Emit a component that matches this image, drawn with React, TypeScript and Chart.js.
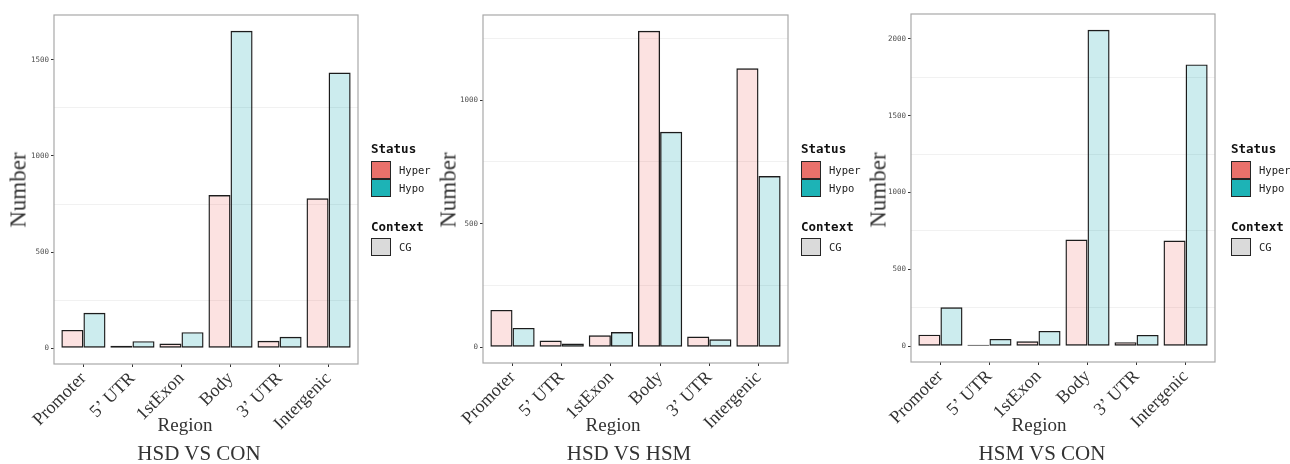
import React, { useEffect, useRef } from "react";
import { Chart, registerables } from "chart.js";

Chart.register(...registerables);

const categories = ["Promoter", "5’ UTR", "1stExon", "Body", "3’ UTR", "Intergenic"];
const hsdConHyper = [95, 12, 24, 797, 38, 780];
const hsdConHypo = [184, 36, 83, 1651, 59, 1434];
const hsdHsmHyper = [151, 27, 48, 1281, 43, 1129];
const hsdHsmHypo = [78, 15, 61, 872, 32, 693];
const hsmConHyper = [75, 10, 32, 694, 26, 687];
const hsmConHypo = [253, 47, 99, 2058, 73, 1833];
const panelTitles = ["HSD VS CON", "HSD VS HSM", "HSM VS CON"];
const seriesNames = ["Hyper", "Hypo"];
const contextNames = ["CG"];

const hyperFill = "rgba(242,112,104,0.2)";
const hypoFill = "rgba(0,160,172,0.2)";
const hyperKey = "#E9716B";
const hypoKey = "#1DB3B6";
const barEdge = "#1C1C1C";
const serif = "'Liberation Serif', 'Times New Roman', serif";
const mono = "'DejaVu Sans Mono', 'Liberation Mono', monospace";

const W = 430;
const H = 464;

const borderPlugin = {
  id: "panelBorder",
  afterDraw(chart: any) {
    const { ctx, chartArea } = chart;
    ctx.save();
    ctx.strokeStyle = "#A8A8A8";
    ctx.lineWidth = 1.2;
    ctx.strokeRect(chartArea.left, chartArea.top, chartArea.right - chartArea.left, chartArea.bottom - chartArea.top);
    ctx.restore();
  },
};

type PanelProps = {
  offset: number;
  areaLeft: number;
  areaRight: number;
  areaTop: number;
  areaBottom: number;
  hyper: number[];
  hypo: number[];
  title: string;
  yTitleX: number;
  regionX: number;
  titleX: number;
  legendX: number;
};

function Panel(p: PanelProps) {
  const ref = useRef<HTMLCanvasElement>(null);
  useEffect(() => {
    const maxVal = Math.max(...p.hyper, ...p.hypo);
    const chart = new Chart(ref.current as HTMLCanvasElement, {
      type: "bar",
      data: {
        datasets: [
          {
            label: seriesNames[0],
            data: p.hyper.map((y, i) => ({ x: i, y })),
            backgroundColor: hyperFill,
            borderColor: barEdge,
            borderWidth: 1.4,
            borderSkipped: false,
          },
          {
            label: seriesNames[1],
            data: p.hypo.map((y, i) => ({ x: i, y })),
            backgroundColor: hypoFill,
            borderColor: barEdge,
            borderWidth: 1.4,
            borderSkipped: false,
          },
        ],
      } as any,
      options: {
        responsive: false,
        animation: false,
        devicePixelRatio: 1,
        events: [],
        layout: { padding: { left: 0, right: W - p.areaRight, top: p.areaTop, bottom: 0 } },
        plugins: { legend: { display: false }, tooltip: { enabled: false } },
        datasets: { bar: { categoryPercentage: 0.9, barPercentage: 1 } },
        scales: {
          x: {
            type: "linear",
            offset: false,
            min: -0.6,
            max: categories.length - 0.4,
            border: { display: false },
            afterBuildTicks: (s: any) => {
              s.ticks = categories.map((_, i) => ({ value: i }));
            },
            afterFit: (s: any) => {
              s.height = H - p.areaBottom;
            },
            grid: {
              offset: false,
              drawOnChartArea: false,
              drawTicks: true,
              tickLength: 3,
              tickColor: "#333333",
              tickWidth: 1,
            },
            ticks: {
              autoSkip: false,
              minRotation: 45,
              maxRotation: 45,
              padding: 1,
              color: "#333333",
              font: { family: serif, size: 18 },
              callback: (v: any) => categories[Number(v)] ?? "",
            },
          },
          y: {
            type: "linear",
            min: -0.05 * maxVal,
            max: 1.05 * maxVal,
            border: { display: false },
            afterBuildTicks: (s: any) => {
              const t: any[] = [];
              for (let v = 0; v <= s.max; v += 250) t.push({ value: v });
              s.ticks = t;
            },
            afterFit: (s: any) => {
              s.width = p.areaLeft;
            },
            grid: {
              color: (c: any) => (c.tick && c.tick.value % 500 !== 0 ? "#F1F1F1" : "rgba(0,0,0,0)"),
              tickColor: (c: any) => (c.tick && c.tick.value % 500 === 0 ? "#333333" : "rgba(0,0,0,0)"),
              lineWidth: 1,
              tickLength: 3,
            },
            ticks: {
              padding: 2,
              color: "#4D4D4D",
              font: { family: mono, size: 7.5 },
              callback: (v: any) => (Number(v) % 500 === 0 ? String(v) : ""),
            },
          },
        },
      } as any,
      plugins: [borderPlugin],
    });
    return () => chart.destroy();
  }, []);

  const textBase: React.CSSProperties = { position: "absolute", whiteSpace: "nowrap", color: "#333333", lineHeight: 1 };
  const lx = p.legendX - p.offset;
  const keyBox: React.CSSProperties = {
    position: "absolute",
    width: 18,
    height: 16,
    border: "1.2px solid #262626",
    left: lx,
  };
  return (
    <div style={{ position: "absolute", left: p.offset, top: 0, width: W, height: H }}>
      <canvas ref={ref} width={W} height={H} style={{ position: "absolute", left: 0, top: 0, width: W, height: H }} />
      <div
        style={{
          ...textBase,
          fontFamily: serif,
          fontSize: 23,
          left: p.yTitleX - p.offset,
          top: 190,
          transform: "translate(-50%, -50%) rotate(-90deg)",
        }}
      >
        Number
      </div>
      <div style={{ ...textBase, fontFamily: serif, fontSize: 19, left: p.regionX - p.offset, top: 424, transform: "translate(-50%, -50%)" }}>
        Region
      </div>
      <div style={{ ...textBase, fontFamily: serif, fontSize: 21, left: p.titleX - p.offset, top: 453, transform: "translate(-50%, -50%)" }}>
        {p.title}
      </div>
      <div style={{ ...textBase, fontFamily: mono, fontWeight: "bold", fontSize: 12.5, color: "#111", left: lx, top: 143 }}>Status</div>
      <div style={{ ...keyBox, top: 161, background: hyperKey }} />
      <div style={{ ...keyBox, top: 179, background: hypoKey }} />
      <div style={{ ...textBase, fontFamily: mono, fontSize: 10.5, color: "#222", left: lx + 28, top: 170, transform: "translateY(-50%)" }}>
        {seriesNames[0]}
      </div>
      <div style={{ ...textBase, fontFamily: mono, fontSize: 10.5, color: "#222", left: lx + 28, top: 188, transform: "translateY(-50%)" }}>
        {seriesNames[1]}
      </div>
      <div style={{ ...textBase, fontFamily: mono, fontWeight: "bold", fontSize: 12.5, color: "#111", left: lx, top: 221 }}>Context</div>
      <div style={{ ...keyBox, top: 238, background: "#DADADA" }} />
      <div style={{ ...textBase, fontFamily: mono, fontSize: 10.5, color: "#222", left: lx + 28, top: 247, transform: "translateY(-50%)" }}>
        {contextNames[0]}
      </div>
    </div>
  );
}

export default function App() {
  return (
    <div style={{ position: "absolute", left: 0, top: 0, width: 1290, height: 464, background: "#fff", overflow: "hidden" }}>
      <Panel offset={0} areaLeft={54} areaRight={358} areaTop={15} areaBottom={364} hyper={hsdConHyper} hypo={hsdConHypo}
        title={panelTitles[0]} yTitleX={18} regionX={185} titleX={199} legendX={371} />
      <Panel offset={430} areaLeft={53} areaRight={358} areaTop={15} areaBottom={363} hyper={hsdHsmHyper} hypo={hsdHsmHypo}
        title={panelTitles[1]} yTitleX={448} regionX={613} titleX={629} legendX={801} />
      <Panel offset={860} areaLeft={51} areaRight={355} areaTop={14} areaBottom={362} hyper={hsmConHyper} hypo={hsmConHypo}
        title={panelTitles[2]} yTitleX={878} regionX={1039} titleX={1042} legendX={1231} />
    </div>
  );
}
